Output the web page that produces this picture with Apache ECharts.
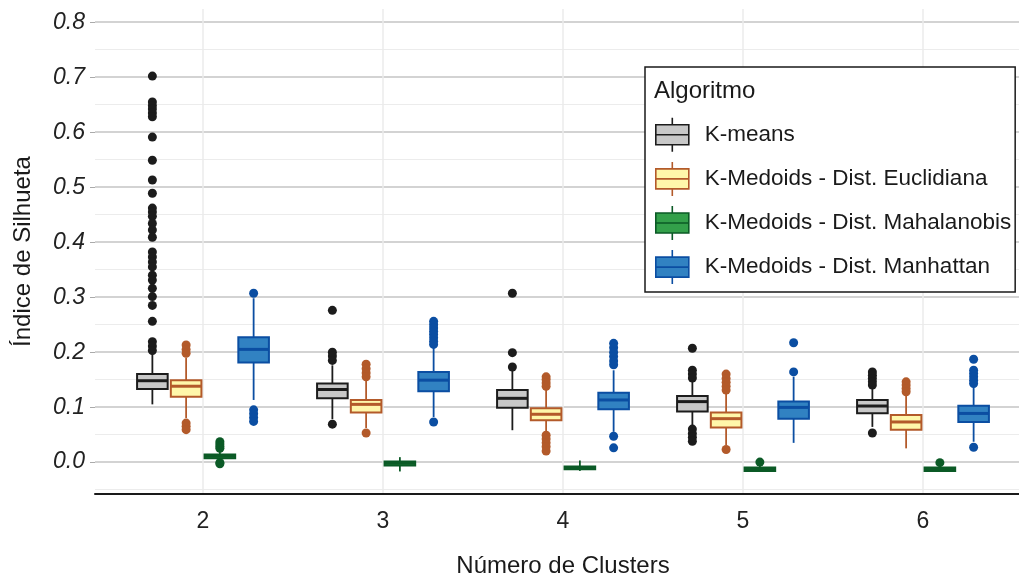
<!DOCTYPE html>
<html>
<head>
    <meta charset="utf-8">
    <title>Índice de Silhueta por número de clusters</title>
    <style>
        body { margin: 0; padding: 0; background: #fff; }
        #chart { width: 1019px; height: 576px; }
    </style>
</head>
<body>
    <div id="chart"></div>
    <script src="https://cdn.jsdelivr.net/npm/echarts@6/dist/echarts.min.js"></script>
    <script>
        // categorias do eixo x
        var categories = [2, 3, 4, 5, 6];
        var algNames = ['K-means', 'K-Medoids - Dist. Euclidiana', 'K-Medoids - Dist. Mahalanobis', 'K-Medoids - Dist. Manhattan'];
        var yTicks = [0, 0.1, 0.2, 0.3, 0.4, 0.5, 0.6, 0.7, 0.8];
        var yMinorTicks = [-0.05, 0.05, 0.15, 0.25, 0.35, 0.45, 0.55, 0.65, 0.75];

        // [min, Q1, mediana, Q3, max] por categoria
        var kmeansBox = [
            [0.105, 0.133, 0.148, 0.160, 0.198],
            [0.078, 0.116, 0.132, 0.143, 0.176],
            [0.058, 0.099, 0.116, 0.131, 0.167],
            [0.064, 0.092, 0.110, 0.120, 0.149],
            [0.064, 0.089, 0.102, 0.113, 0.137]
        ];
        var euclidBox = [
            [0.080, 0.119, 0.138, 0.149, 0.190],
            [0.062, 0.090, 0.105, 0.113, 0.149],
            [0.053, 0.076, 0.087, 0.098, 0.134],
            [0.031, 0.063, 0.079, 0.090, 0.126],
            [0.025, 0.059, 0.073, 0.0855, 0.122]
        ];
        var mahalBox = [
            [0.001, 0.007, 0.011, 0.014, 0.022],
            [-0.017, -0.006, -0.002, 0.001, 0.009],
            [-0.016, -0.013, -0.011, -0.008, 0.003],
            [-0.018, -0.016, -0.013, -0.010, -0.004],
            [-0.018, -0.016, -0.013, -0.010, -0.004]
        ];
        var manhBox = [
            [0.113, 0.181, 0.205, 0.227, 0.298],
            [0.082, 0.129, 0.149, 0.164, 0.210],
            [0.055, 0.096, 0.113, 0.126, 0.167],
            [0.035, 0.079, 0.0995, 0.110, 0.155],
            [0.037, 0.073, 0.0885, 0.1025, 0.137]
        ];

        // outliers por categoria
        var kmeansOut = [
            [0.702, 0.655, 0.648, 0.642, 0.635, 0.628, 0.591, 0.549, 0.513, 0.489, 0.462, 0.455, 0.447, 0.434, 0.422, 0.409, 0.382, 0.373, 0.364, 0.355, 0.340, 0.331, 0.316, 0.301, 0.285, 0.256, 0.219, 0.211, 0.203],
            [0.276, 0.200, 0.193, 0.185, 0.069],
            [0.307, 0.199, 0.173],
            [0.207, 0.167, 0.160, 0.153, 0.060, 0.052, 0.045, 0.038],
            [0.164, 0.158, 0.152, 0.146, 0.140, 0.053]
        ];
        var euclidOut = [
            [0.213, 0.205, 0.198, 0.071, 0.065, 0.059],
            [0.178, 0.170, 0.162, 0.155, 0.053],
            [0.155, 0.150, 0.144, 0.138, 0.049, 0.042, 0.035, 0.028, 0.020],
            [0.160, 0.152, 0.145, 0.138, 0.131, 0.023],
            [0.146, 0.140, 0.134, 0.128]
        ];
        var mahalOut = [
            [0.037, 0.033, 0.029, 0.025, -0.001, -0.003],
            [],
            [],
            [0.000],
            [-0.001]
        ];
        var manhOut = [
            [0.307, 0.095, 0.088, 0.081, 0.074],
            [0.256, 0.250, 0.244, 0.238, 0.232, 0.226, 0.220, 0.214, 0.073],
            [0.216, 0.208, 0.200, 0.192, 0.184, 0.177, 0.047, 0.026],
            [0.217, 0.164],
            [0.187, 0.167, 0.161, 0.155, 0.149, 0.143, 0.027]
        ];

        var fills = ['#c8c8c8', '#fff7aa', '#33a04a', '#3182c2'];
        var strokes = ['#1c1c1c', '#b35a2a', '#0b5a26', '#0b4ea2'];
        var boxes = [kmeansBox, euclidBox, mahalBox, manhBox];
        var outs = [kmeansOut, euclidOut, mahalOut, manhOut];

        var FONT = '"Liberation Sans", Arial, sans-serif';
        var dodge = 0.75 / 4;
        var halfBox = 0.085;

        function makeRender(dx, fill, stroke) {
            return function (params, api) {
                var xc = api.value(0) + dx;
                var pLow = api.coord([xc, api.value(1)]);
                var pQ1 = api.coord([xc, api.value(2)]);
                var pQ3 = api.coord([xc, api.value(4)]);
                var pHigh = api.coord([xc, api.value(5)]);
                var bl = api.coord([xc - halfBox, api.value(2)]);
                var tr = api.coord([xc + halfBox, api.value(4)]);
                var mL = api.coord([xc - halfBox, api.value(3)]);
                var mR = api.coord([xc + halfBox, api.value(3)]);
                return {
                    type: 'group',
                    children: [
                        { type: 'line', shape: { x1: pLow[0], y1: pLow[1], x2: pQ1[0], y2: pQ1[1] }, style: { stroke: stroke, lineWidth: 1.8 } },
                        { type: 'line', shape: { x1: pQ3[0], y1: pQ3[1], x2: pHigh[0], y2: pHigh[1] }, style: { stroke: stroke, lineWidth: 1.8 } },
                        { type: 'rect', shape: { x: bl[0], y: tr[1], width: tr[0] - bl[0], height: Math.max(bl[1] - tr[1], 1) }, style: { fill: fill, stroke: stroke, lineWidth: 2 } },
                        { type: 'line', shape: { x1: mL[0], y1: mL[1], x2: mR[0], y2: mR[1] }, style: { stroke: stroke, lineWidth: 3 } }
                    ]
                };
            };
        }

        var series = [];
        var legendData = [];
        algNames.forEach(function (name, k) {
            var dx = (k - 1.5) * dodge;
            var boxData = boxes[k].map(function (b, i) {
                return [categories[i]].concat(b);
            });
            series.push({
                name: name,
                type: 'custom',
                renderItem: makeRender(dx, fills[k], strokes[k]),
                encode: { x: 0, y: [1, 2, 3, 4, 5] },
                itemStyle: { color: fills[k], borderColor: strokes[k], borderWidth: 2 },
                data: boxData,
                z: 2
            });
            var outData = [];
            outs[k].forEach(function (list, i) {
                list.forEach(function (v) {
                    outData.push([categories[i] + dx, v]);
                });
            });
            series.push({
                name: name,
                type: 'scatter',
                symbolSize: 9,
                itemStyle: { color: strokes[k], opacity: 1 },
                data: outData,
                z: 3
            });
            legendData.push({
                name: name,
                itemStyle: { color: fills[k], borderColor: strokes[k], borderWidth: 1.6 }
            });
        });

        var chart = echarts.init(document.getElementById('chart'));
        var option = {
            animation: false,
            title: {
                text: 'Algoritmo',
                left: 654,
                top: 79,
                padding: 0,
                textStyle: { fontFamily: FONT, fontSize: 24, fontWeight: 'normal', color: '#1a1a1a' }
            },
            legend: {
                orient: 'vertical',
                left: 645,
                top: 67,
                padding: [50, 4, 7, 10],
                itemWidth: 33,
                itemHeight: 34,
                itemGap: 8.5,
                selectedMode: false,
                backgroundColor: '#fff',
                borderColor: '#1a1a1a',
                borderWidth: 1.5,
                borderRadius: 0,
                icon: 'path://M0,7 L33,7 L33,27 L0,27 Z M0,17 L33,17 M16.5,0 L16.5,7 M16.5,27 L16.5,34',
                textStyle: { fontFamily: FONT, fontSize: 22.5, color: '#1a1a1a', padding: [0, 0, 0, 11] },
                data: legendData
            },
            grid: { left: 95, right: -12, top: 9, bottom: 82, outerBoundsMode: 'none' },
            xAxis: {
                type: 'value',
                min: 1.4,
                max: 6.6,
                name: 'Número de Clusters',
                nameLocation: 'middle',
                nameGap: 60,
                nameTextStyle: { fontFamily: FONT, fontSize: 24, color: '#1a1a1a' },
                axisLine: { show: true, onZero: false, lineStyle: { color: '#1a1a1a', width: 2 } },
                axisTick: { show: false, customValues: categories },
                axisLabel: { customValues: categories, fontFamily: FONT, fontSize: 23, color: '#222', margin: 16 },
                splitLine: { show: true, lineStyle: { color: '#ebebeb', width: 1.5 } }
            },
            yAxis: [{
                type: 'value',
                min: -0.058,
                max: 0.824,
                name: 'Índice de Silhueta',
                nameLocation: 'middle',
                nameGap: 60,
                nameTextStyle: { fontFamily: FONT, fontSize: 24, color: '#1a1a1a' },
                axisLine: { show: false },
                axisTick: { show: true, customValues: yTicks, length: 5, lineStyle: { color: '#aaa' } },
                axisLabel: {
                    customValues: yTicks,
                    fontFamily: FONT, fontSize: 23, fontStyle: 'italic', color: '#222', margin: 10,
                    formatter: function (v) { return v.toFixed(1); }
                },
                splitLine: { show: true, lineStyle: { color: '#c4c4c4', width: 1.5 } }
            }, {
                type: 'value',
                min: -0.058,
                max: 0.824,
                position: 'left',
                axisLine: { show: false },
                axisTick: { show: false, customValues: yMinorTicks },
                axisLabel: { show: false, customValues: yMinorTicks },
                splitLine: { show: true, lineStyle: { color: '#ececec', width: 1.2 } }
            }],
            series: series
        };
        chart.setOption(option);
    </script>
</body>
</html>
